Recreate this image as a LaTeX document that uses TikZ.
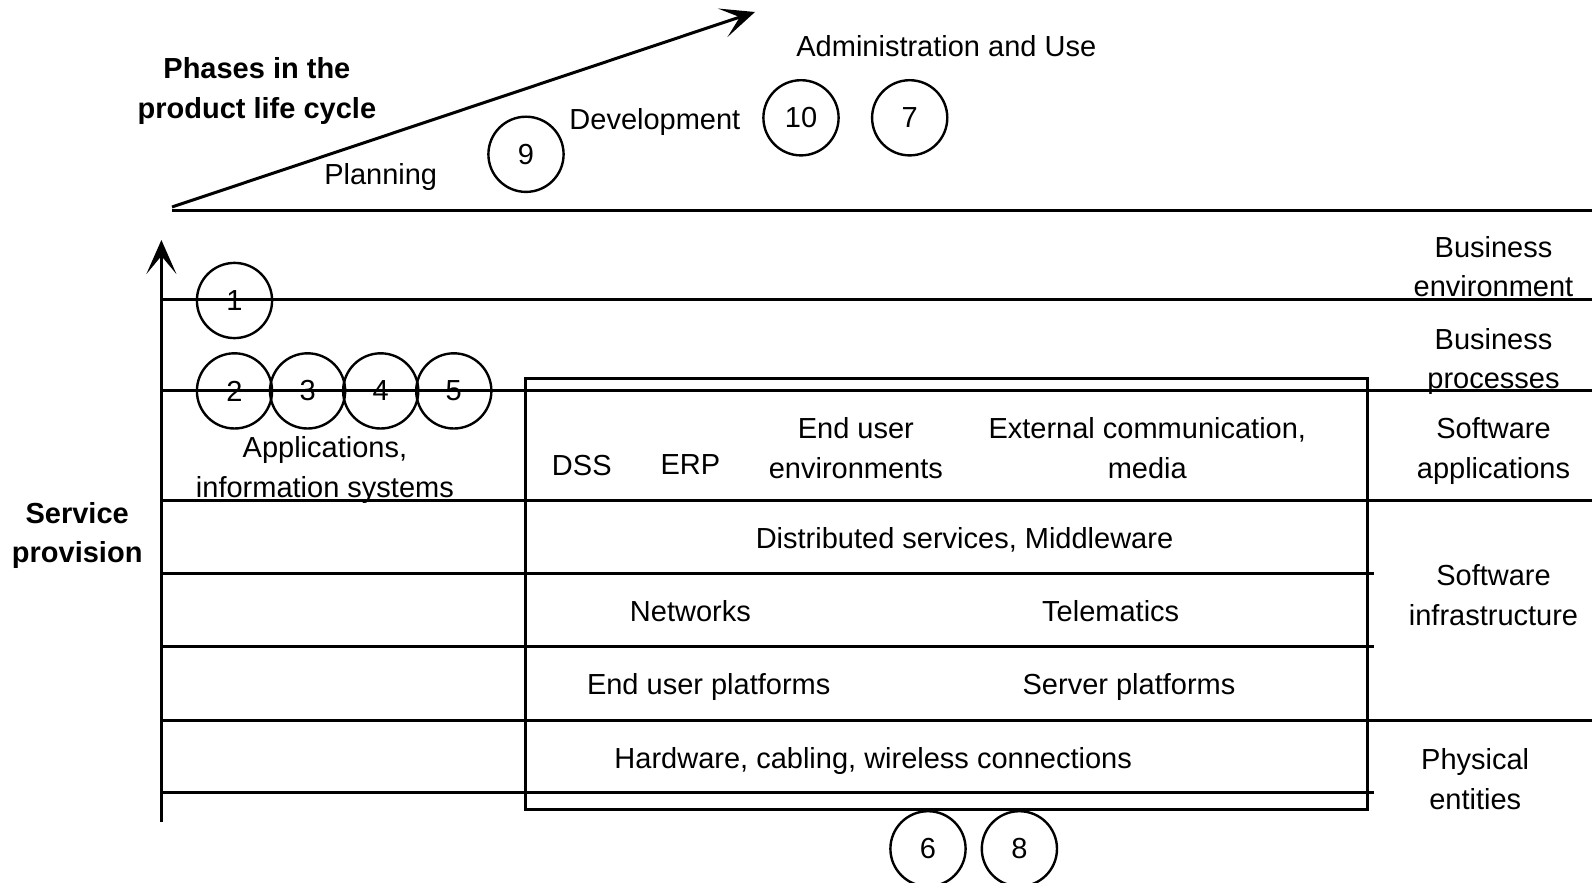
\documentclass[tikz,border=0pt]{standalone}
\usepackage{fontspec}
\setmainfont{Liberation Sans}
\usetikzlibrary{arrows.meta}
\begin{document}
\begin{tikzpicture}[x=0.5pt,y=-0.5pt,
  lbl/.style={font=\fontsize{14.5}{19.8}\selectfont, align=center, inner sep=0pt, text depth=0pt},
  blbl/.style={font=\fontsize{14.5}{19.8}\selectfont\bfseries, align=center, inner sep=0pt, text depth=0pt},
  num/.style={circle, draw, line width=1.2pt, minimum size=37.6pt, inner sep=0pt, font=\fontsize{14.5}{17}\selectfont},
  rule/.style={line width=1.5pt},
  axis/.style={line width=1.5pt, -{Stealth[length=17pt,width=15pt,inset=9pt]}}]
\useasboundingbox (0,0) rectangle (1592,883);

% phase arrow and base line
\coordinate (A0) at (172,207);
\coordinate (A1) at (755,12);
\coordinate (H0) at (172,210.5);
\coordinate (H1) at (1592,210.5);
\draw[axis] (A0) -- (A1);
\draw[rule] (H0) -- (H1);

% service provision axis
\coordinate (V0) at (161.4,822.4);
\coordinate (V1) at (161.4,240);
\draw[axis] (V0) -- (V1);

% layer lines
\foreach \y/\xr [count=\i] in {299.5/1592, 390.9/1592, 500.5/1592, 573.6/1374, 646.7/1374, 720.9/1592, 792.9/1374}{
  \coordinate (L\i a) at (161.4,\y);
  \coordinate (L\i b) at (\xr,\y);
  \draw[rule] (L\i a) -- (L\i b);
}

% inner box
\coordinate (B0) at (525.9,378.7);
\coordinate (B1) at (1367.6,809.2);
\draw[rule] (B0) rectangle (B1);

% circles
\node[num] (c1) at (234.5,300.5) {1};
\node[num] (c2) at (234.5,390.9) {2};
\node[num] (c3) at (307.6,390.9) {3};
\node[num] (c4) at (380.7,390.9) {4};
\node[num] (c5) at (453.8,390.9) {5};
\node[num] (c9) at (526,154.3) {9};
\node[num] (c10) at (801,117.8) {10};
\node[num] (c7) at (909.7,117.8) {7};
\node[num] (c6) at (928,848.8) {6};
\node[num] (c8) at (1019.4,848.8) {8};

% texts
\node[blbl] (phases) at (256.9,87.8) {Phases in the\\product life cycle};
\node[lbl] (planning) at (380.7,173.6) {Planning};
\node[lbl] (devel) at (654.9,118.8) {Development};
\node[lbl] (admin) at (946.3,45.7) {Administration and Use};
\node[lbl] (benv) at (1493.5,266.5) {Business\\environment};
\node[lbl] (bproc) at (1493.5,358.3) {Business\\processes};
\node[lbl] (swapp) at (1493.5,448.2) {Software\\applications};
\node[lbl] (swinf) at (1493.5,595) {Software\\infrastructure};
\node[lbl] (phys) at (1475.2,779.2) {Physical\\entities};
\node[blbl] (service) at (77.2,532.5) {Service\\provision};
\node[lbl] (apps) at (324.9,467) {Applications,\\information systems};
\node[lbl] (dss) at (581.8,465) {DSS};
\node[lbl] (erp) at (690.4,465) {ERP};
\node[lbl] (euenv) at (855.9,448.2) {End user\\environments};
\node[lbl] (ext) at (1147.3,448.2) {External communication,\\media};
\node[lbl] (dist) at (964.5,538.1) {Distributed services, Middleware};
\node[lbl] (net) at (690.4,611.2) {Networks};
\node[lbl] (tele) at (1110.7,611.2) {Telematics};
\node[lbl] (eup) at (708.7,684.3) {End user platforms};
\node[lbl] (srv) at (1129,684.3) {Server platforms};
\node[lbl] (hw) at (873.2,758.4) {Hardware, cabling, wireless connections};
\end{tikzpicture}
\end{document}
